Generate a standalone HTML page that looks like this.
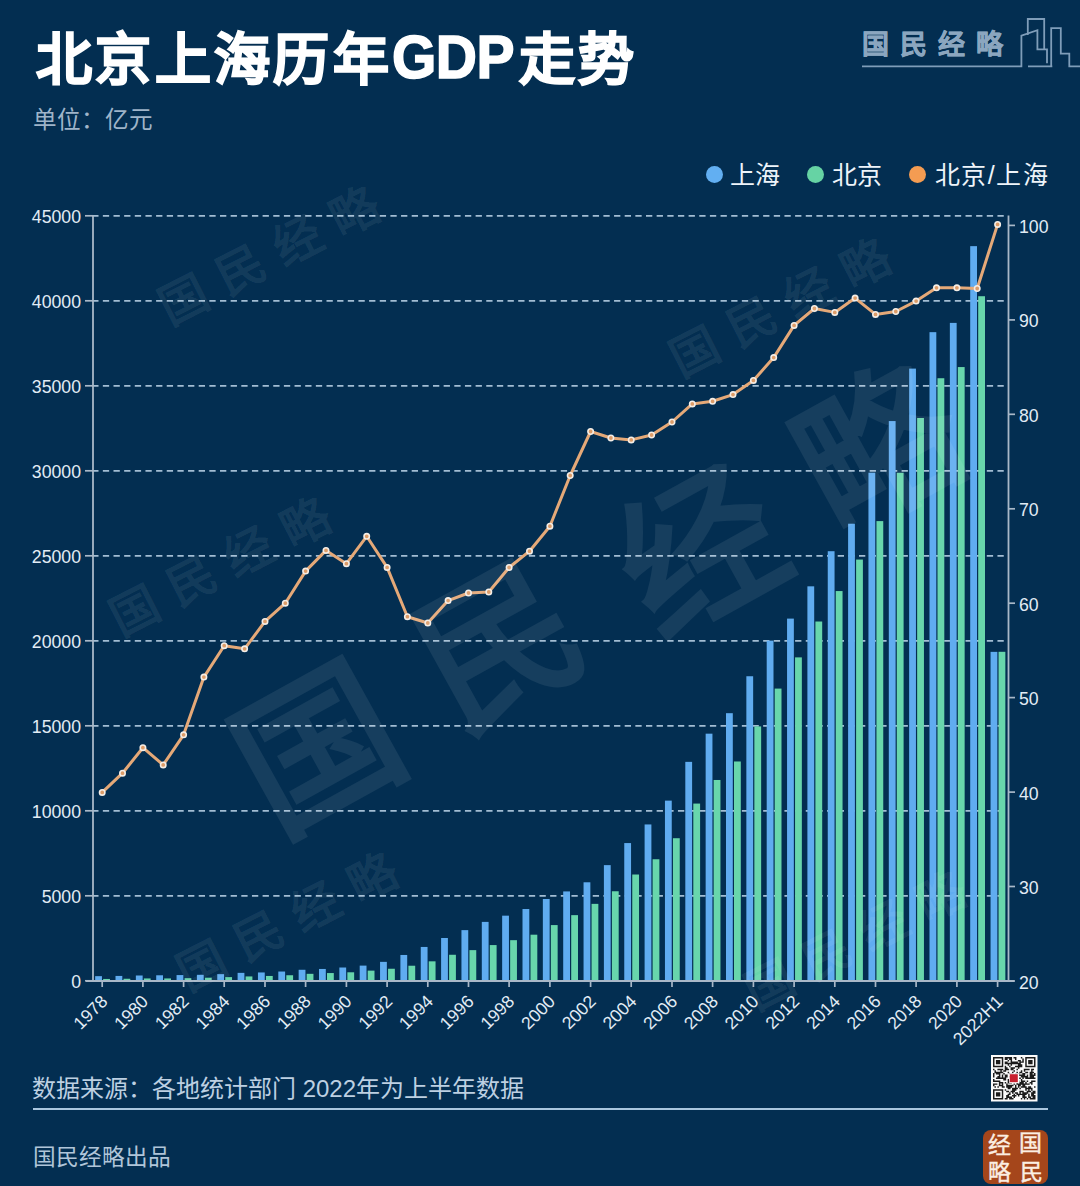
<!DOCTYPE html>
<html lang="zh-CN"><head><meta charset="utf-8">
<title>北京上海历年GDP走势</title>
<style>
html,body{margin:0;padding:0;}
body{width:1080px;height:1186px;background:#032e51;position:relative;overflow:hidden;font-family:"Liberation Sans",sans-serif;}
.abs{position:absolute;white-space:nowrap;line-height:1;}
svg{position:absolute;left:0;top:0;}
.ax{font-family:"Liberation Sans",sans-serif;font-size:17.7px;fill:#e2ecf5;}
.wm{font-family:"Liberation Serif",serif;font-weight:bold;fill:#ffffff;fill-opacity:0.08;}
.tt{top:32px;font-size:56px;font-weight:bold;color:#fff;-webkit-text-stroke:1.6px #fff;letter-spacing:2.4px;}
#unit{left:33px;top:108.5px;font-size:23.6px;color:#9fb4c9;}
.lg{top:163px;font-size:25px;color:#eef4fa;}
.dot{position:absolute;width:17px;height:17px;border-radius:50%;top:166px;}
#gdp{transform:scaleX(0.935);transform-origin:0 0;}
#src{left:32px;top:1077px;font-size:24px;color:#bdd0e2;}
#sep{position:absolute;left:32.5px;top:1108.3px;width:1015px;height:2px;background:#aac6de;}
#pub{left:32.5px;top:1146px;font-size:22.7px;color:#b0c5d9;}
#logo{left:862px;top:31.5px;-webkit-text-stroke:0.5px #8ba6bf;font-family:"Liberation Serif",serif;font-size:27px;font-weight:bold;color:#8ba6bf;letter-spacing:11px;}
#seal{position:absolute;left:983px;top:1130px;width:65px;height:54px;background:#a5461b;border-radius:8px;}
.sc{position:absolute;font-family:"Liberation Serif",serif;font-size:23px;font-weight:normal;-webkit-text-stroke:0.4px #fbeee2;color:#fbeee2;line-height:1;}
</style></head><body>
<div class="abs tt" style="left:35.8px;letter-spacing:3.4px;">北京上海历年</div><div class="abs tt" id="gdp" style="left:392px;top:27px;letter-spacing:-0.6px;font-size:61px;">GDP</div><div class="abs tt" style="left:519px;letter-spacing:3.4px;">走势</div>
<div class="abs" id="unit">单位：亿元</div>
<div class="abs" id="logo">国民经略</div>
<svg width="1080" height="1186" viewBox="0 0 1080 1186" style="z-index:1">
<path d="M862 66.4H1021.4V35.6L1037.4 30.2V49.4H1047V63.2 M1027.8 35V19H1044.2V49.4 M1028 66.4H1052.3 M1051.2 66.4V28.1H1060.8V53.7H1069.3V66.4H1080" fill="none" stroke="#7f9db9" stroke-width="1.8"/>
<line x1="92.2" y1="895.8" x2="1005" y2="895.8" stroke="#a3bdd3" stroke-width="1.7" stroke-dasharray="6.3 4.35"/>
<line x1="92.2" y1="810.8" x2="1005" y2="810.8" stroke="#a3bdd3" stroke-width="1.7" stroke-dasharray="6.3 4.35"/>
<line x1="92.2" y1="725.8" x2="1005" y2="725.8" stroke="#a3bdd3" stroke-width="1.7" stroke-dasharray="6.3 4.35"/>
<line x1="92.2" y1="640.8" x2="1005" y2="640.8" stroke="#a3bdd3" stroke-width="1.7" stroke-dasharray="6.3 4.35"/>
<line x1="92.2" y1="555.8" x2="1005" y2="555.8" stroke="#a3bdd3" stroke-width="1.7" stroke-dasharray="6.3 4.35"/>
<line x1="92.2" y1="470.8" x2="1005" y2="470.8" stroke="#a3bdd3" stroke-width="1.7" stroke-dasharray="6.3 4.35"/>
<line x1="92.2" y1="385.8" x2="1005" y2="385.8" stroke="#a3bdd3" stroke-width="1.7" stroke-dasharray="6.3 4.35"/>
<line x1="92.2" y1="300.8" x2="1005" y2="300.8" stroke="#a3bdd3" stroke-width="1.7" stroke-dasharray="6.3 4.35"/>
<line x1="92.2" y1="215.8" x2="1005" y2="215.8" stroke="#a3bdd3" stroke-width="1.7" stroke-dasharray="6.3 4.35"/>
<line x1="85" y1="980.8" x2="93" y2="980.8" stroke="#a9b8c8" stroke-width="1.7"/>
<text x="81" y="988.3" text-anchor="end" class="ax">0</text>
<line x1="85" y1="895.8" x2="93" y2="895.8" stroke="#a9b8c8" stroke-width="1.7"/>
<text x="81" y="903.3" text-anchor="end" class="ax">5000</text>
<line x1="85" y1="810.8" x2="93" y2="810.8" stroke="#a9b8c8" stroke-width="1.7"/>
<text x="81" y="818.3" text-anchor="end" class="ax">10000</text>
<line x1="85" y1="725.8" x2="93" y2="725.8" stroke="#a9b8c8" stroke-width="1.7"/>
<text x="81" y="733.3" text-anchor="end" class="ax">15000</text>
<line x1="85" y1="640.8" x2="93" y2="640.8" stroke="#a9b8c8" stroke-width="1.7"/>
<text x="81" y="648.3" text-anchor="end" class="ax">20000</text>
<line x1="85" y1="555.8" x2="93" y2="555.8" stroke="#a9b8c8" stroke-width="1.7"/>
<text x="81" y="563.3" text-anchor="end" class="ax">25000</text>
<line x1="85" y1="470.8" x2="93" y2="470.8" stroke="#a9b8c8" stroke-width="1.7"/>
<text x="81" y="478.3" text-anchor="end" class="ax">30000</text>
<line x1="85" y1="385.8" x2="93" y2="385.8" stroke="#a9b8c8" stroke-width="1.7"/>
<text x="81" y="393.3" text-anchor="end" class="ax">35000</text>
<line x1="85" y1="300.8" x2="93" y2="300.8" stroke="#a9b8c8" stroke-width="1.7"/>
<text x="81" y="308.3" text-anchor="end" class="ax">40000</text>
<line x1="85" y1="215.8" x2="93" y2="215.8" stroke="#a9b8c8" stroke-width="1.7"/>
<text x="81" y="223.3" text-anchor="end" class="ax">45000</text>
<line x1="1008.5" y1="981.0" x2="1015" y2="981.0" stroke="#a9b8c8" stroke-width="1.7"/>
<text x="1019" y="988.5" class="ax">20</text>
<line x1="1008.5" y1="886.5" x2="1015" y2="886.5" stroke="#a9b8c8" stroke-width="1.7"/>
<text x="1019" y="894.0" class="ax">30</text>
<line x1="1008.5" y1="792.1" x2="1015" y2="792.1" stroke="#a9b8c8" stroke-width="1.7"/>
<text x="1019" y="799.6" class="ax">40</text>
<line x1="1008.5" y1="697.6" x2="1015" y2="697.6" stroke="#a9b8c8" stroke-width="1.7"/>
<text x="1019" y="705.1" class="ax">50</text>
<line x1="1008.5" y1="603.2" x2="1015" y2="603.2" stroke="#a9b8c8" stroke-width="1.7"/>
<text x="1019" y="610.7" class="ax">60</text>
<line x1="1008.5" y1="508.8" x2="1015" y2="508.8" stroke="#a9b8c8" stroke-width="1.7"/>
<text x="1019" y="516.2" class="ax">70</text>
<line x1="1008.5" y1="414.3" x2="1015" y2="414.3" stroke="#a9b8c8" stroke-width="1.7"/>
<text x="1019" y="421.8" class="ax">80</text>
<line x1="1008.5" y1="319.9" x2="1015" y2="319.9" stroke="#a9b8c8" stroke-width="1.7"/>
<text x="1019" y="327.4" class="ax">90</text>
<line x1="1008.5" y1="225.4" x2="1015" y2="225.4" stroke="#a9b8c8" stroke-width="1.7"/>
<text x="1019" y="232.9" class="ax">100</text>
<rect x="95.15" y="976.16" width="6.8" height="4.64" fill="#60acf0"/>
<rect x="103.15" y="978.95" width="6.8" height="1.85" fill="#68d6ac"/>
<rect x="115.50" y="975.93" width="6.8" height="4.87" fill="#60acf0"/>
<rect x="123.50" y="978.76" width="6.8" height="2.04" fill="#68d6ac"/>
<rect x="135.85" y="975.50" width="6.8" height="5.30" fill="#60acf0"/>
<rect x="143.85" y="978.44" width="6.8" height="2.36" fill="#68d6ac"/>
<rect x="156.20" y="975.28" width="6.8" height="5.52" fill="#60acf0"/>
<rect x="164.20" y="978.43" width="6.8" height="2.37" fill="#68d6ac"/>
<rect x="176.55" y="975.07" width="6.8" height="5.73" fill="#60acf0"/>
<rect x="184.55" y="978.17" width="6.8" height="2.63" fill="#68d6ac"/>
<rect x="196.90" y="974.82" width="6.8" height="5.98" fill="#60acf0"/>
<rect x="204.90" y="977.69" width="6.8" height="3.11" fill="#68d6ac"/>
<rect x="217.25" y="974.15" width="6.8" height="6.65" fill="#60acf0"/>
<rect x="225.25" y="977.12" width="6.8" height="3.68" fill="#68d6ac"/>
<rect x="237.60" y="972.86" width="6.8" height="7.94" fill="#60acf0"/>
<rect x="245.60" y="976.43" width="6.8" height="4.37" fill="#68d6ac"/>
<rect x="257.95" y="972.46" width="6.8" height="8.34" fill="#60acf0"/>
<rect x="265.95" y="975.96" width="6.8" height="4.84" fill="#68d6ac"/>
<rect x="278.30" y="971.53" width="6.8" height="9.27" fill="#60acf0"/>
<rect x="286.30" y="975.24" width="6.8" height="5.56" fill="#68d6ac"/>
<rect x="298.65" y="969.78" width="6.8" height="11.02" fill="#60acf0"/>
<rect x="306.65" y="973.83" width="6.8" height="6.97" fill="#68d6ac"/>
<rect x="319.00" y="968.96" width="6.8" height="11.84" fill="#60acf0"/>
<rect x="327.00" y="973.05" width="6.8" height="7.75" fill="#68d6ac"/>
<rect x="339.35" y="967.51" width="6.8" height="13.29" fill="#60acf0"/>
<rect x="347.35" y="972.29" width="6.8" height="8.51" fill="#68d6ac"/>
<rect x="359.70" y="965.61" width="6.8" height="15.19" fill="#60acf0"/>
<rect x="367.70" y="970.62" width="6.8" height="10.18" fill="#68d6ac"/>
<rect x="380.05" y="961.86" width="6.8" height="18.94" fill="#60acf0"/>
<rect x="388.05" y="968.75" width="6.8" height="12.05" fill="#68d6ac"/>
<rect x="400.40" y="954.97" width="6.8" height="25.83" fill="#60acf0"/>
<rect x="408.40" y="965.73" width="6.8" height="15.07" fill="#68d6ac"/>
<rect x="420.75" y="946.95" width="6.8" height="33.85" fill="#60acf0"/>
<rect x="428.75" y="961.33" width="6.8" height="19.47" fill="#68d6ac"/>
<rect x="441.10" y="937.99" width="6.8" height="42.81" fill="#60acf0"/>
<rect x="449.10" y="954.77" width="6.8" height="26.03" fill="#68d6ac"/>
<rect x="461.45" y="930.13" width="6.8" height="50.67" fill="#60acf0"/>
<rect x="469.45" y="950.13" width="6.8" height="30.67" fill="#68d6ac"/>
<rect x="481.80" y="921.89" width="6.8" height="58.91" fill="#60acf0"/>
<rect x="489.80" y="945.07" width="6.8" height="35.73" fill="#68d6ac"/>
<rect x="502.15" y="915.67" width="6.8" height="65.13" fill="#60acf0"/>
<rect x="510.15" y="940.17" width="6.8" height="40.63" fill="#68d6ac"/>
<rect x="522.50" y="909.02" width="6.8" height="71.78" fill="#60acf0"/>
<rect x="530.50" y="934.69" width="6.8" height="46.11" fill="#68d6ac"/>
<rect x="542.85" y="898.99" width="6.8" height="81.81" fill="#60acf0"/>
<rect x="550.85" y="925.08" width="6.8" height="55.72" fill="#68d6ac"/>
<rect x="563.20" y="891.42" width="6.8" height="89.38" fill="#60acf0"/>
<rect x="571.20" y="915.14" width="6.8" height="65.66" fill="#68d6ac"/>
<rect x="583.55" y="882.28" width="6.8" height="98.52" fill="#60acf0"/>
<rect x="591.55" y="903.86" width="6.8" height="76.94" fill="#68d6ac"/>
<rect x="603.90" y="865.13" width="6.8" height="115.67" fill="#60acf0"/>
<rect x="611.90" y="891.26" width="6.8" height="89.54" fill="#68d6ac"/>
<rect x="624.25" y="843.07" width="6.8" height="137.73" fill="#60acf0"/>
<rect x="632.25" y="874.51" width="6.8" height="106.29" fill="#68d6ac"/>
<rect x="644.60" y="824.45" width="6.8" height="156.35" fill="#60acf0"/>
<rect x="652.60" y="859.25" width="6.8" height="121.55" fill="#68d6ac"/>
<rect x="664.95" y="800.62" width="6.8" height="180.18" fill="#60acf0"/>
<rect x="672.95" y="838.22" width="6.8" height="142.58" fill="#68d6ac"/>
<rect x="685.30" y="761.86" width="6.8" height="218.94" fill="#60acf0"/>
<rect x="693.30" y="803.57" width="6.8" height="177.23" fill="#68d6ac"/>
<rect x="705.65" y="733.67" width="6.8" height="247.13" fill="#60acf0"/>
<rect x="713.65" y="779.98" width="6.8" height="200.82" fill="#68d6ac"/>
<rect x="726.00" y="713.18" width="6.8" height="267.62" fill="#60acf0"/>
<rect x="734.00" y="761.48" width="6.8" height="219.32" fill="#68d6ac"/>
<rect x="746.35" y="676.24" width="6.8" height="304.56" fill="#60acf0"/>
<rect x="754.35" y="726.41" width="6.8" height="254.39" fill="#68d6ac"/>
<rect x="766.70" y="640.64" width="6.8" height="340.16" fill="#60acf0"/>
<rect x="774.70" y="688.59" width="6.8" height="292.21" fill="#68d6ac"/>
<rect x="787.05" y="618.60" width="6.8" height="362.20" fill="#60acf0"/>
<rect x="795.05" y="657.38" width="6.8" height="323.42" fill="#68d6ac"/>
<rect x="807.40" y="586.33" width="6.8" height="394.47" fill="#60acf0"/>
<rect x="815.40" y="621.51" width="6.8" height="359.29" fill="#68d6ac"/>
<rect x="827.75" y="551.21" width="6.8" height="429.59" fill="#60acf0"/>
<rect x="835.75" y="591.06" width="6.8" height="389.74" fill="#68d6ac"/>
<rect x="848.10" y="523.72" width="6.8" height="457.08" fill="#60acf0"/>
<rect x="856.10" y="559.56" width="6.8" height="421.24" fill="#68d6ac"/>
<rect x="868.45" y="472.72" width="6.8" height="508.08" fill="#60acf0"/>
<rect x="876.45" y="521.10" width="6.8" height="459.70" fill="#68d6ac"/>
<rect x="888.80" y="421.07" width="6.8" height="559.73" fill="#60acf0"/>
<rect x="896.80" y="472.79" width="6.8" height="508.01" fill="#68d6ac"/>
<rect x="909.15" y="368.60" width="6.8" height="612.20" fill="#60acf0"/>
<rect x="917.15" y="418.00" width="6.8" height="562.80" fill="#68d6ac"/>
<rect x="929.50" y="332.16" width="6.8" height="648.64" fill="#60acf0"/>
<rect x="937.50" y="378.23" width="6.8" height="602.57" fill="#68d6ac"/>
<rect x="949.85" y="322.89" width="6.8" height="657.91" fill="#60acf0"/>
<rect x="957.85" y="367.06" width="6.8" height="613.74" fill="#68d6ac"/>
<rect x="970.20" y="246.15" width="6.8" height="734.65" fill="#60acf0"/>
<rect x="978.20" y="296.22" width="6.8" height="684.58" fill="#68d6ac"/>
<rect x="990.55" y="651.86" width="6.8" height="328.94" fill="#60acf0"/>
<rect x="998.55" y="651.81" width="6.8" height="328.99" fill="#68d6ac"/>
<line x1="93" y1="215.5" x2="93" y2="981.8" stroke="#a9b8c8" stroke-width="1.8"/>
<line x1="1008.5" y1="215.5" x2="1008.5" y2="981.8" stroke="#a9b8c8" stroke-width="1.8"/>
<line x1="86" y1="981" x2="1014" y2="981" stroke="#a9b8c8" stroke-width="2"/>
<line x1="102.2" y1="981" x2="102.2" y2="987" stroke="#a9b8c8" stroke-width="1.7"/>
<text x="104.4" y="998.3" text-anchor="end" dominant-baseline="central" transform="rotate(-45 104.4 998.3)" class="ax">1978</text>
<line x1="142.9" y1="981" x2="142.9" y2="987" stroke="#a9b8c8" stroke-width="1.7"/>
<text x="145.1" y="998.3" text-anchor="end" dominant-baseline="central" transform="rotate(-45 145.1 998.3)" class="ax">1980</text>
<line x1="183.6" y1="981" x2="183.6" y2="987" stroke="#a9b8c8" stroke-width="1.7"/>
<text x="185.8" y="998.3" text-anchor="end" dominant-baseline="central" transform="rotate(-45 185.8 998.3)" class="ax">1982</text>
<line x1="224.2" y1="981" x2="224.2" y2="987" stroke="#a9b8c8" stroke-width="1.7"/>
<text x="226.4" y="998.3" text-anchor="end" dominant-baseline="central" transform="rotate(-45 226.4 998.3)" class="ax">1984</text>
<line x1="265.0" y1="981" x2="265.0" y2="987" stroke="#a9b8c8" stroke-width="1.7"/>
<text x="267.2" y="998.3" text-anchor="end" dominant-baseline="central" transform="rotate(-45 267.2 998.3)" class="ax">1986</text>
<line x1="305.6" y1="981" x2="305.6" y2="987" stroke="#a9b8c8" stroke-width="1.7"/>
<text x="307.8" y="998.3" text-anchor="end" dominant-baseline="central" transform="rotate(-45 307.8 998.3)" class="ax">1988</text>
<line x1="346.4" y1="981" x2="346.4" y2="987" stroke="#a9b8c8" stroke-width="1.7"/>
<text x="348.6" y="998.3" text-anchor="end" dominant-baseline="central" transform="rotate(-45 348.6 998.3)" class="ax">1990</text>
<line x1="387.1" y1="981" x2="387.1" y2="987" stroke="#a9b8c8" stroke-width="1.7"/>
<text x="389.3" y="998.3" text-anchor="end" dominant-baseline="central" transform="rotate(-45 389.3 998.3)" class="ax">1992</text>
<line x1="427.8" y1="981" x2="427.8" y2="987" stroke="#a9b8c8" stroke-width="1.7"/>
<text x="429.9" y="998.3" text-anchor="end" dominant-baseline="central" transform="rotate(-45 429.9 998.3)" class="ax">1994</text>
<line x1="468.5" y1="981" x2="468.5" y2="987" stroke="#a9b8c8" stroke-width="1.7"/>
<text x="470.7" y="998.3" text-anchor="end" dominant-baseline="central" transform="rotate(-45 470.7 998.3)" class="ax">1996</text>
<line x1="509.1" y1="981" x2="509.1" y2="987" stroke="#a9b8c8" stroke-width="1.7"/>
<text x="511.3" y="998.3" text-anchor="end" dominant-baseline="central" transform="rotate(-45 511.3 998.3)" class="ax">1998</text>
<line x1="549.9" y1="981" x2="549.9" y2="987" stroke="#a9b8c8" stroke-width="1.7"/>
<text x="552.1" y="998.3" text-anchor="end" dominant-baseline="central" transform="rotate(-45 552.1 998.3)" class="ax">2000</text>
<line x1="590.6" y1="981" x2="590.6" y2="987" stroke="#a9b8c8" stroke-width="1.7"/>
<text x="592.8" y="998.3" text-anchor="end" dominant-baseline="central" transform="rotate(-45 592.8 998.3)" class="ax">2002</text>
<line x1="631.2" y1="981" x2="631.2" y2="987" stroke="#a9b8c8" stroke-width="1.7"/>
<text x="633.5" y="998.3" text-anchor="end" dominant-baseline="central" transform="rotate(-45 633.5 998.3)" class="ax">2004</text>
<line x1="672.0" y1="981" x2="672.0" y2="987" stroke="#a9b8c8" stroke-width="1.7"/>
<text x="674.2" y="998.3" text-anchor="end" dominant-baseline="central" transform="rotate(-45 674.2 998.3)" class="ax">2006</text>
<line x1="712.6" y1="981" x2="712.6" y2="987" stroke="#a9b8c8" stroke-width="1.7"/>
<text x="714.9" y="998.3" text-anchor="end" dominant-baseline="central" transform="rotate(-45 714.9 998.3)" class="ax">2008</text>
<line x1="753.4" y1="981" x2="753.4" y2="987" stroke="#a9b8c8" stroke-width="1.7"/>
<text x="755.6" y="998.3" text-anchor="end" dominant-baseline="central" transform="rotate(-45 755.6 998.3)" class="ax">2010</text>
<line x1="794.1" y1="981" x2="794.1" y2="987" stroke="#a9b8c8" stroke-width="1.7"/>
<text x="796.3" y="998.3" text-anchor="end" dominant-baseline="central" transform="rotate(-45 796.3 998.3)" class="ax">2012</text>
<line x1="834.8" y1="981" x2="834.8" y2="987" stroke="#a9b8c8" stroke-width="1.7"/>
<text x="837.0" y="998.3" text-anchor="end" dominant-baseline="central" transform="rotate(-45 837.0 998.3)" class="ax">2014</text>
<line x1="875.5" y1="981" x2="875.5" y2="987" stroke="#a9b8c8" stroke-width="1.7"/>
<text x="877.7" y="998.3" text-anchor="end" dominant-baseline="central" transform="rotate(-45 877.7 998.3)" class="ax">2016</text>
<line x1="916.1" y1="981" x2="916.1" y2="987" stroke="#a9b8c8" stroke-width="1.7"/>
<text x="918.4" y="998.3" text-anchor="end" dominant-baseline="central" transform="rotate(-45 918.4 998.3)" class="ax">2018</text>
<line x1="956.9" y1="981" x2="956.9" y2="987" stroke="#a9b8c8" stroke-width="1.7"/>
<text x="959.1" y="998.3" text-anchor="end" dominant-baseline="central" transform="rotate(-45 959.1 998.3)" class="ax">2020</text>
<line x1="997.6" y1="981" x2="997.6" y2="987" stroke="#a9b8c8" stroke-width="1.7"/>
<text x="999.8" y="998.3" text-anchor="end" dominant-baseline="central" transform="rotate(-45 999.8 998.3)" class="ax">2022H1</text>
<polyline points="102.2,792.4 122.5,773.2 142.9,747.7 163.2,764.9 183.6,734.8 203.9,677.1 224.2,645.7 244.6,648.8 265.0,621.4 285.3,603.2 305.6,571.1 326.0,550.4 346.4,563.7 366.7,536.3 387.1,567.4 407.4,616.7 427.8,623.0 448.1,600.6 468.5,593.0 488.8,592.0 509.1,567.5 529.5,551.2 549.9,526.2 570.2,475.5 590.6,431.5 610.9,438.0 631.2,439.9 651.6,435.0 672.0,422.0 692.3,403.9 712.6,401.3 733.0,394.6 753.4,380.4 773.7,357.6 794.1,325.4 814.4,308.5 834.8,312.4 855.1,298.1 875.5,314.4 895.8,311.5 916.1,301.1 936.5,287.8 956.9,287.8 977.2,288.5 997.6,224.4" fill="none" stroke="#e5a978" stroke-width="3" stroke-linejoin="round"/>
<circle cx="102.2" cy="792.4" r="2.7" fill="#dd9c68" stroke="#f4ede6" stroke-width="1.6"/>
<circle cx="122.5" cy="773.2" r="2.7" fill="#dd9c68" stroke="#f4ede6" stroke-width="1.6"/>
<circle cx="142.9" cy="747.7" r="2.7" fill="#dd9c68" stroke="#f4ede6" stroke-width="1.6"/>
<circle cx="163.2" cy="764.9" r="2.7" fill="#dd9c68" stroke="#f4ede6" stroke-width="1.6"/>
<circle cx="183.6" cy="734.8" r="2.7" fill="#dd9c68" stroke="#f4ede6" stroke-width="1.6"/>
<circle cx="203.9" cy="677.1" r="2.7" fill="#dd9c68" stroke="#f4ede6" stroke-width="1.6"/>
<circle cx="224.2" cy="645.7" r="2.7" fill="#dd9c68" stroke="#f4ede6" stroke-width="1.6"/>
<circle cx="244.6" cy="648.8" r="2.7" fill="#dd9c68" stroke="#f4ede6" stroke-width="1.6"/>
<circle cx="265.0" cy="621.4" r="2.7" fill="#dd9c68" stroke="#f4ede6" stroke-width="1.6"/>
<circle cx="285.3" cy="603.2" r="2.7" fill="#dd9c68" stroke="#f4ede6" stroke-width="1.6"/>
<circle cx="305.6" cy="571.1" r="2.7" fill="#dd9c68" stroke="#f4ede6" stroke-width="1.6"/>
<circle cx="326.0" cy="550.4" r="2.7" fill="#dd9c68" stroke="#f4ede6" stroke-width="1.6"/>
<circle cx="346.4" cy="563.7" r="2.7" fill="#dd9c68" stroke="#f4ede6" stroke-width="1.6"/>
<circle cx="366.7" cy="536.3" r="2.7" fill="#dd9c68" stroke="#f4ede6" stroke-width="1.6"/>
<circle cx="387.1" cy="567.4" r="2.7" fill="#dd9c68" stroke="#f4ede6" stroke-width="1.6"/>
<circle cx="407.4" cy="616.7" r="2.7" fill="#dd9c68" stroke="#f4ede6" stroke-width="1.6"/>
<circle cx="427.8" cy="623.0" r="2.7" fill="#dd9c68" stroke="#f4ede6" stroke-width="1.6"/>
<circle cx="448.1" cy="600.6" r="2.7" fill="#dd9c68" stroke="#f4ede6" stroke-width="1.6"/>
<circle cx="468.5" cy="593.0" r="2.7" fill="#dd9c68" stroke="#f4ede6" stroke-width="1.6"/>
<circle cx="488.8" cy="592.0" r="2.7" fill="#dd9c68" stroke="#f4ede6" stroke-width="1.6"/>
<circle cx="509.1" cy="567.5" r="2.7" fill="#dd9c68" stroke="#f4ede6" stroke-width="1.6"/>
<circle cx="529.5" cy="551.2" r="2.7" fill="#dd9c68" stroke="#f4ede6" stroke-width="1.6"/>
<circle cx="549.9" cy="526.2" r="2.7" fill="#dd9c68" stroke="#f4ede6" stroke-width="1.6"/>
<circle cx="570.2" cy="475.5" r="2.7" fill="#dd9c68" stroke="#f4ede6" stroke-width="1.6"/>
<circle cx="590.6" cy="431.5" r="2.7" fill="#dd9c68" stroke="#f4ede6" stroke-width="1.6"/>
<circle cx="610.9" cy="438.0" r="2.7" fill="#dd9c68" stroke="#f4ede6" stroke-width="1.6"/>
<circle cx="631.2" cy="439.9" r="2.7" fill="#dd9c68" stroke="#f4ede6" stroke-width="1.6"/>
<circle cx="651.6" cy="435.0" r="2.7" fill="#dd9c68" stroke="#f4ede6" stroke-width="1.6"/>
<circle cx="672.0" cy="422.0" r="2.7" fill="#dd9c68" stroke="#f4ede6" stroke-width="1.6"/>
<circle cx="692.3" cy="403.9" r="2.7" fill="#dd9c68" stroke="#f4ede6" stroke-width="1.6"/>
<circle cx="712.6" cy="401.3" r="2.7" fill="#dd9c68" stroke="#f4ede6" stroke-width="1.6"/>
<circle cx="733.0" cy="394.6" r="2.7" fill="#dd9c68" stroke="#f4ede6" stroke-width="1.6"/>
<circle cx="753.4" cy="380.4" r="2.7" fill="#dd9c68" stroke="#f4ede6" stroke-width="1.6"/>
<circle cx="773.7" cy="357.6" r="2.7" fill="#dd9c68" stroke="#f4ede6" stroke-width="1.6"/>
<circle cx="794.1" cy="325.4" r="2.7" fill="#dd9c68" stroke="#f4ede6" stroke-width="1.6"/>
<circle cx="814.4" cy="308.5" r="2.7" fill="#dd9c68" stroke="#f4ede6" stroke-width="1.6"/>
<circle cx="834.8" cy="312.4" r="2.7" fill="#dd9c68" stroke="#f4ede6" stroke-width="1.6"/>
<circle cx="855.1" cy="298.1" r="2.7" fill="#dd9c68" stroke="#f4ede6" stroke-width="1.6"/>
<circle cx="875.5" cy="314.4" r="2.7" fill="#dd9c68" stroke="#f4ede6" stroke-width="1.6"/>
<circle cx="895.8" cy="311.5" r="2.7" fill="#dd9c68" stroke="#f4ede6" stroke-width="1.6"/>
<circle cx="916.1" cy="301.1" r="2.7" fill="#dd9c68" stroke="#f4ede6" stroke-width="1.6"/>
<circle cx="936.5" cy="287.8" r="2.7" fill="#dd9c68" stroke="#f4ede6" stroke-width="1.6"/>
<circle cx="956.9" cy="287.8" r="2.7" fill="#dd9c68" stroke="#f4ede6" stroke-width="1.6"/>
<circle cx="977.2" cy="288.5" r="2.7" fill="#dd9c68" stroke="#f4ede6" stroke-width="1.6"/>
<circle cx="997.6" cy="224.4" r="2.7" fill="#dd9c68" stroke="#f4ede6" stroke-width="1.6"/>
<rect x="991" y="1055" width="46.5" height="46.5" fill="#fbfbfb"/>
<path fill="#1a1a1a" d="M993.00 1057.00h1.47v1.47h-1.47zM994.47 1057.00h1.47v1.47h-1.47zM995.93 1057.00h1.47v1.47h-1.47zM997.40 1057.00h1.47v1.47h-1.47zM998.86 1057.00h1.47v1.47h-1.47zM1000.33 1057.00h1.47v1.47h-1.47zM1001.79 1057.00h1.47v1.47h-1.47zM1004.72 1057.00h1.47v1.47h-1.47zM1006.19 1057.00h1.47v1.47h-1.47zM1007.66 1057.00h1.47v1.47h-1.47zM1009.12 1057.00h1.47v1.47h-1.47zM1010.59 1057.00h1.47v1.47h-1.47zM1013.52 1057.00h1.47v1.47h-1.47zM1014.98 1057.00h1.47v1.47h-1.47zM1020.84 1057.00h1.47v1.47h-1.47zM1025.24 1057.00h1.47v1.47h-1.47zM1026.71 1057.00h1.47v1.47h-1.47zM1028.17 1057.00h1.47v1.47h-1.47zM1029.64 1057.00h1.47v1.47h-1.47zM1031.10 1057.00h1.47v1.47h-1.47zM1032.57 1057.00h1.47v1.47h-1.47zM1034.03 1057.00h1.47v1.47h-1.47zM993.00 1058.47h1.47v1.47h-1.47zM1001.79 1058.47h1.47v1.47h-1.47zM1004.72 1058.47h1.47v1.47h-1.47zM1006.19 1058.47h1.47v1.47h-1.47zM1009.12 1058.47h1.47v1.47h-1.47zM1010.59 1058.47h1.47v1.47h-1.47zM1014.98 1058.47h1.47v1.47h-1.47zM1022.31 1058.47h1.47v1.47h-1.47zM1025.24 1058.47h1.47v1.47h-1.47zM1034.03 1058.47h1.47v1.47h-1.47zM993.00 1059.93h1.47v1.47h-1.47zM995.93 1059.93h1.47v1.47h-1.47zM997.40 1059.93h1.47v1.47h-1.47zM998.86 1059.93h1.47v1.47h-1.47zM1001.79 1059.93h1.47v1.47h-1.47zM1007.66 1059.93h1.47v1.47h-1.47zM1010.59 1059.93h1.47v1.47h-1.47zM1017.91 1059.93h1.47v1.47h-1.47zM1019.38 1059.93h1.47v1.47h-1.47zM1022.31 1059.93h1.47v1.47h-1.47zM1025.24 1059.93h1.47v1.47h-1.47zM1028.17 1059.93h1.47v1.47h-1.47zM1029.64 1059.93h1.47v1.47h-1.47zM1031.10 1059.93h1.47v1.47h-1.47zM1034.03 1059.93h1.47v1.47h-1.47zM993.00 1061.40h1.47v1.47h-1.47zM995.93 1061.40h1.47v1.47h-1.47zM997.40 1061.40h1.47v1.47h-1.47zM998.86 1061.40h1.47v1.47h-1.47zM1001.79 1061.40h1.47v1.47h-1.47zM1004.72 1061.40h1.47v1.47h-1.47zM1006.19 1061.40h1.47v1.47h-1.47zM1010.59 1061.40h1.47v1.47h-1.47zM1012.05 1061.40h1.47v1.47h-1.47zM1013.52 1061.40h1.47v1.47h-1.47zM1014.98 1061.40h1.47v1.47h-1.47zM1016.45 1061.40h1.47v1.47h-1.47zM1019.38 1061.40h1.47v1.47h-1.47zM1020.84 1061.40h1.47v1.47h-1.47zM1022.31 1061.40h1.47v1.47h-1.47zM1025.24 1061.40h1.47v1.47h-1.47zM1028.17 1061.40h1.47v1.47h-1.47zM1029.64 1061.40h1.47v1.47h-1.47zM1031.10 1061.40h1.47v1.47h-1.47zM1034.03 1061.40h1.47v1.47h-1.47zM993.00 1062.86h1.47v1.47h-1.47zM995.93 1062.86h1.47v1.47h-1.47zM997.40 1062.86h1.47v1.47h-1.47zM998.86 1062.86h1.47v1.47h-1.47zM1001.79 1062.86h1.47v1.47h-1.47zM1004.72 1062.86h1.47v1.47h-1.47zM1006.19 1062.86h1.47v1.47h-1.47zM1007.66 1062.86h1.47v1.47h-1.47zM1009.12 1062.86h1.47v1.47h-1.47zM1010.59 1062.86h1.47v1.47h-1.47zM1012.05 1062.86h1.47v1.47h-1.47zM1013.52 1062.86h1.47v1.47h-1.47zM1014.98 1062.86h1.47v1.47h-1.47zM1016.45 1062.86h1.47v1.47h-1.47zM1017.91 1062.86h1.47v1.47h-1.47zM1019.38 1062.86h1.47v1.47h-1.47zM1025.24 1062.86h1.47v1.47h-1.47zM1028.17 1062.86h1.47v1.47h-1.47zM1029.64 1062.86h1.47v1.47h-1.47zM1031.10 1062.86h1.47v1.47h-1.47zM1034.03 1062.86h1.47v1.47h-1.47zM993.00 1064.33h1.47v1.47h-1.47zM1001.79 1064.33h1.47v1.47h-1.47zM1007.66 1064.33h1.47v1.47h-1.47zM1010.59 1064.33h1.47v1.47h-1.47zM1017.91 1064.33h1.47v1.47h-1.47zM1019.38 1064.33h1.47v1.47h-1.47zM1020.84 1064.33h1.47v1.47h-1.47zM1025.24 1064.33h1.47v1.47h-1.47zM1034.03 1064.33h1.47v1.47h-1.47zM993.00 1065.79h1.47v1.47h-1.47zM994.47 1065.79h1.47v1.47h-1.47zM995.93 1065.79h1.47v1.47h-1.47zM997.40 1065.79h1.47v1.47h-1.47zM998.86 1065.79h1.47v1.47h-1.47zM1000.33 1065.79h1.47v1.47h-1.47zM1001.79 1065.79h1.47v1.47h-1.47zM1004.72 1065.79h1.47v1.47h-1.47zM1009.12 1065.79h1.47v1.47h-1.47zM1014.98 1065.79h1.47v1.47h-1.47zM1016.45 1065.79h1.47v1.47h-1.47zM1017.91 1065.79h1.47v1.47h-1.47zM1019.38 1065.79h1.47v1.47h-1.47zM1020.84 1065.79h1.47v1.47h-1.47zM1025.24 1065.79h1.47v1.47h-1.47zM1026.71 1065.79h1.47v1.47h-1.47zM1028.17 1065.79h1.47v1.47h-1.47zM1029.64 1065.79h1.47v1.47h-1.47zM1031.10 1065.79h1.47v1.47h-1.47zM1032.57 1065.79h1.47v1.47h-1.47zM1034.03 1065.79h1.47v1.47h-1.47zM1004.72 1067.26h1.47v1.47h-1.47zM1006.19 1067.26h1.47v1.47h-1.47zM1010.59 1067.26h1.47v1.47h-1.47zM1012.05 1067.26h1.47v1.47h-1.47zM1013.52 1067.26h1.47v1.47h-1.47zM1017.91 1067.26h1.47v1.47h-1.47zM993.00 1068.72h1.47v1.47h-1.47zM997.40 1068.72h1.47v1.47h-1.47zM998.86 1068.72h1.47v1.47h-1.47zM1000.33 1068.72h1.47v1.47h-1.47zM1001.79 1068.72h1.47v1.47h-1.47zM1004.72 1068.72h1.47v1.47h-1.47zM1006.19 1068.72h1.47v1.47h-1.47zM1007.66 1068.72h1.47v1.47h-1.47zM1010.59 1068.72h1.47v1.47h-1.47zM1012.05 1068.72h1.47v1.47h-1.47zM1016.45 1068.72h1.47v1.47h-1.47zM1023.78 1068.72h1.47v1.47h-1.47zM1025.24 1068.72h1.47v1.47h-1.47zM1026.71 1068.72h1.47v1.47h-1.47zM1028.17 1068.72h1.47v1.47h-1.47zM1031.10 1068.72h1.47v1.47h-1.47zM1032.57 1068.72h1.47v1.47h-1.47zM994.47 1070.19h1.47v1.47h-1.47zM1000.33 1070.19h1.47v1.47h-1.47zM1003.26 1070.19h1.47v1.47h-1.47zM1004.72 1070.19h1.47v1.47h-1.47zM1013.52 1070.19h1.47v1.47h-1.47zM1020.84 1070.19h1.47v1.47h-1.47zM1023.78 1070.19h1.47v1.47h-1.47zM1031.10 1070.19h1.47v1.47h-1.47zM994.47 1071.66h1.47v1.47h-1.47zM995.93 1071.66h1.47v1.47h-1.47zM997.40 1071.66h1.47v1.47h-1.47zM998.86 1071.66h1.47v1.47h-1.47zM1000.33 1071.66h1.47v1.47h-1.47zM1001.79 1071.66h1.47v1.47h-1.47zM1007.66 1071.66h1.47v1.47h-1.47zM1012.05 1071.66h1.47v1.47h-1.47zM1016.45 1071.66h1.47v1.47h-1.47zM1019.38 1071.66h1.47v1.47h-1.47zM1020.84 1071.66h1.47v1.47h-1.47zM1025.24 1071.66h1.47v1.47h-1.47zM1026.71 1071.66h1.47v1.47h-1.47zM1029.64 1071.66h1.47v1.47h-1.47zM1031.10 1071.66h1.47v1.47h-1.47zM1032.57 1071.66h1.47v1.47h-1.47zM993.00 1073.12h1.47v1.47h-1.47zM995.93 1073.12h1.47v1.47h-1.47zM997.40 1073.12h1.47v1.47h-1.47zM998.86 1073.12h1.47v1.47h-1.47zM1003.26 1073.12h1.47v1.47h-1.47zM1009.12 1073.12h1.47v1.47h-1.47zM1010.59 1073.12h1.47v1.47h-1.47zM1012.05 1073.12h1.47v1.47h-1.47zM1014.98 1073.12h1.47v1.47h-1.47zM1016.45 1073.12h1.47v1.47h-1.47zM1017.91 1073.12h1.47v1.47h-1.47zM1022.31 1073.12h1.47v1.47h-1.47zM1023.78 1073.12h1.47v1.47h-1.47zM1029.64 1073.12h1.47v1.47h-1.47zM1031.10 1073.12h1.47v1.47h-1.47zM1034.03 1073.12h1.47v1.47h-1.47zM993.00 1074.59h1.47v1.47h-1.47zM998.86 1074.59h1.47v1.47h-1.47zM1001.79 1074.59h1.47v1.47h-1.47zM1004.72 1074.59h1.47v1.47h-1.47zM1006.19 1074.59h1.47v1.47h-1.47zM1010.59 1074.59h1.47v1.47h-1.47zM1012.05 1074.59h1.47v1.47h-1.47zM1014.98 1074.59h1.47v1.47h-1.47zM1016.45 1074.59h1.47v1.47h-1.47zM1017.91 1074.59h1.47v1.47h-1.47zM1019.38 1074.59h1.47v1.47h-1.47zM1020.84 1074.59h1.47v1.47h-1.47zM1022.31 1074.59h1.47v1.47h-1.47zM1023.78 1074.59h1.47v1.47h-1.47zM1026.71 1074.59h1.47v1.47h-1.47zM1029.64 1074.59h1.47v1.47h-1.47zM1031.10 1074.59h1.47v1.47h-1.47zM1032.57 1074.59h1.47v1.47h-1.47zM1034.03 1074.59h1.47v1.47h-1.47zM993.00 1076.05h1.47v1.47h-1.47zM997.40 1076.05h1.47v1.47h-1.47zM998.86 1076.05h1.47v1.47h-1.47zM1001.79 1076.05h1.47v1.47h-1.47zM1004.72 1076.05h1.47v1.47h-1.47zM1006.19 1076.05h1.47v1.47h-1.47zM1009.12 1076.05h1.47v1.47h-1.47zM1014.98 1076.05h1.47v1.47h-1.47zM1020.84 1076.05h1.47v1.47h-1.47zM1022.31 1076.05h1.47v1.47h-1.47zM1023.78 1076.05h1.47v1.47h-1.47zM1025.24 1076.05h1.47v1.47h-1.47zM1026.71 1076.05h1.47v1.47h-1.47zM1029.64 1076.05h1.47v1.47h-1.47zM1031.10 1076.05h1.47v1.47h-1.47zM1032.57 1076.05h1.47v1.47h-1.47zM995.93 1077.52h1.47v1.47h-1.47zM997.40 1077.52h1.47v1.47h-1.47zM998.86 1077.52h1.47v1.47h-1.47zM1000.33 1077.52h1.47v1.47h-1.47zM1001.79 1077.52h1.47v1.47h-1.47zM1003.26 1077.52h1.47v1.47h-1.47zM1004.72 1077.52h1.47v1.47h-1.47zM1010.59 1077.52h1.47v1.47h-1.47zM1013.52 1077.52h1.47v1.47h-1.47zM1014.98 1077.52h1.47v1.47h-1.47zM1016.45 1077.52h1.47v1.47h-1.47zM1017.91 1077.52h1.47v1.47h-1.47zM1019.38 1077.52h1.47v1.47h-1.47zM1022.31 1077.52h1.47v1.47h-1.47zM1025.24 1077.52h1.47v1.47h-1.47zM1026.71 1077.52h1.47v1.47h-1.47zM1028.17 1077.52h1.47v1.47h-1.47zM1029.64 1077.52h1.47v1.47h-1.47zM1031.10 1077.52h1.47v1.47h-1.47zM1032.57 1077.52h1.47v1.47h-1.47zM1034.03 1077.52h1.47v1.47h-1.47zM993.00 1078.98h1.47v1.47h-1.47zM1003.26 1078.98h1.47v1.47h-1.47zM1004.72 1078.98h1.47v1.47h-1.47zM1007.66 1078.98h1.47v1.47h-1.47zM1012.05 1078.98h1.47v1.47h-1.47zM1020.84 1078.98h1.47v1.47h-1.47zM993.00 1080.45h1.47v1.47h-1.47zM994.47 1080.45h1.47v1.47h-1.47zM995.93 1080.45h1.47v1.47h-1.47zM997.40 1080.45h1.47v1.47h-1.47zM998.86 1080.45h1.47v1.47h-1.47zM1007.66 1080.45h1.47v1.47h-1.47zM1009.12 1080.45h1.47v1.47h-1.47zM1017.91 1080.45h1.47v1.47h-1.47zM1020.84 1080.45h1.47v1.47h-1.47zM1022.31 1080.45h1.47v1.47h-1.47zM1023.78 1080.45h1.47v1.47h-1.47zM1026.71 1080.45h1.47v1.47h-1.47zM1031.10 1080.45h1.47v1.47h-1.47zM1032.57 1080.45h1.47v1.47h-1.47zM1034.03 1080.45h1.47v1.47h-1.47zM998.86 1081.91h1.47v1.47h-1.47zM1000.33 1081.91h1.47v1.47h-1.47zM1001.79 1081.91h1.47v1.47h-1.47zM1004.72 1081.91h1.47v1.47h-1.47zM1007.66 1081.91h1.47v1.47h-1.47zM1009.12 1081.91h1.47v1.47h-1.47zM1010.59 1081.91h1.47v1.47h-1.47zM1016.45 1081.91h1.47v1.47h-1.47zM1019.38 1081.91h1.47v1.47h-1.47zM1020.84 1081.91h1.47v1.47h-1.47zM1022.31 1081.91h1.47v1.47h-1.47zM1025.24 1081.91h1.47v1.47h-1.47zM1029.64 1081.91h1.47v1.47h-1.47zM1031.10 1081.91h1.47v1.47h-1.47zM993.00 1083.38h1.47v1.47h-1.47zM994.47 1083.38h1.47v1.47h-1.47zM995.93 1083.38h1.47v1.47h-1.47zM998.86 1083.38h1.47v1.47h-1.47zM1001.79 1083.38h1.47v1.47h-1.47zM1006.19 1083.38h1.47v1.47h-1.47zM1013.52 1083.38h1.47v1.47h-1.47zM1016.45 1083.38h1.47v1.47h-1.47zM1017.91 1083.38h1.47v1.47h-1.47zM1019.38 1083.38h1.47v1.47h-1.47zM1020.84 1083.38h1.47v1.47h-1.47zM1022.31 1083.38h1.47v1.47h-1.47zM1023.78 1083.38h1.47v1.47h-1.47zM1025.24 1083.38h1.47v1.47h-1.47zM1026.71 1083.38h1.47v1.47h-1.47zM1028.17 1083.38h1.47v1.47h-1.47zM1031.10 1083.38h1.47v1.47h-1.47zM993.00 1084.84h1.47v1.47h-1.47zM998.86 1084.84h1.47v1.47h-1.47zM1000.33 1084.84h1.47v1.47h-1.47zM1001.79 1084.84h1.47v1.47h-1.47zM1006.19 1084.84h1.47v1.47h-1.47zM1007.66 1084.84h1.47v1.47h-1.47zM1009.12 1084.84h1.47v1.47h-1.47zM1010.59 1084.84h1.47v1.47h-1.47zM1012.05 1084.84h1.47v1.47h-1.47zM1014.98 1084.84h1.47v1.47h-1.47zM1017.91 1084.84h1.47v1.47h-1.47zM1019.38 1084.84h1.47v1.47h-1.47zM1022.31 1084.84h1.47v1.47h-1.47zM1023.78 1084.84h1.47v1.47h-1.47zM994.47 1086.31h1.47v1.47h-1.47zM997.40 1086.31h1.47v1.47h-1.47zM1001.79 1086.31h1.47v1.47h-1.47zM1003.26 1086.31h1.47v1.47h-1.47zM1006.19 1086.31h1.47v1.47h-1.47zM1007.66 1086.31h1.47v1.47h-1.47zM1009.12 1086.31h1.47v1.47h-1.47zM1010.59 1086.31h1.47v1.47h-1.47zM1014.98 1086.31h1.47v1.47h-1.47zM1017.91 1086.31h1.47v1.47h-1.47zM1020.84 1086.31h1.47v1.47h-1.47zM1022.31 1086.31h1.47v1.47h-1.47zM1023.78 1086.31h1.47v1.47h-1.47zM1025.24 1086.31h1.47v1.47h-1.47zM1028.17 1086.31h1.47v1.47h-1.47zM1029.64 1086.31h1.47v1.47h-1.47zM1034.03 1086.31h1.47v1.47h-1.47zM1007.66 1087.78h1.47v1.47h-1.47zM1009.12 1087.78h1.47v1.47h-1.47zM1012.05 1087.78h1.47v1.47h-1.47zM1013.52 1087.78h1.47v1.47h-1.47zM1014.98 1087.78h1.47v1.47h-1.47zM1016.45 1087.78h1.47v1.47h-1.47zM1019.38 1087.78h1.47v1.47h-1.47zM1025.24 1087.78h1.47v1.47h-1.47zM1026.71 1087.78h1.47v1.47h-1.47zM1028.17 1087.78h1.47v1.47h-1.47zM1029.64 1087.78h1.47v1.47h-1.47zM1031.10 1087.78h1.47v1.47h-1.47zM993.00 1089.24h1.47v1.47h-1.47zM994.47 1089.24h1.47v1.47h-1.47zM995.93 1089.24h1.47v1.47h-1.47zM997.40 1089.24h1.47v1.47h-1.47zM998.86 1089.24h1.47v1.47h-1.47zM1000.33 1089.24h1.47v1.47h-1.47zM1001.79 1089.24h1.47v1.47h-1.47zM1004.72 1089.24h1.47v1.47h-1.47zM1012.05 1089.24h1.47v1.47h-1.47zM1013.52 1089.24h1.47v1.47h-1.47zM1014.98 1089.24h1.47v1.47h-1.47zM1025.24 1089.24h1.47v1.47h-1.47zM1028.17 1089.24h1.47v1.47h-1.47zM1031.10 1089.24h1.47v1.47h-1.47zM993.00 1090.71h1.47v1.47h-1.47zM1001.79 1090.71h1.47v1.47h-1.47zM1006.19 1090.71h1.47v1.47h-1.47zM1007.66 1090.71h1.47v1.47h-1.47zM1010.59 1090.71h1.47v1.47h-1.47zM1012.05 1090.71h1.47v1.47h-1.47zM1013.52 1090.71h1.47v1.47h-1.47zM1019.38 1090.71h1.47v1.47h-1.47zM1020.84 1090.71h1.47v1.47h-1.47zM1022.31 1090.71h1.47v1.47h-1.47zM1026.71 1090.71h1.47v1.47h-1.47zM1028.17 1090.71h1.47v1.47h-1.47zM1029.64 1090.71h1.47v1.47h-1.47zM1032.57 1090.71h1.47v1.47h-1.47zM1034.03 1090.71h1.47v1.47h-1.47zM993.00 1092.17h1.47v1.47h-1.47zM995.93 1092.17h1.47v1.47h-1.47zM997.40 1092.17h1.47v1.47h-1.47zM998.86 1092.17h1.47v1.47h-1.47zM1001.79 1092.17h1.47v1.47h-1.47zM1009.12 1092.17h1.47v1.47h-1.47zM1012.05 1092.17h1.47v1.47h-1.47zM1014.98 1092.17h1.47v1.47h-1.47zM1016.45 1092.17h1.47v1.47h-1.47zM1019.38 1092.17h1.47v1.47h-1.47zM1022.31 1092.17h1.47v1.47h-1.47zM1023.78 1092.17h1.47v1.47h-1.47zM1025.24 1092.17h1.47v1.47h-1.47zM1026.71 1092.17h1.47v1.47h-1.47zM1031.10 1092.17h1.47v1.47h-1.47zM1032.57 1092.17h1.47v1.47h-1.47zM1034.03 1092.17h1.47v1.47h-1.47zM993.00 1093.64h1.47v1.47h-1.47zM995.93 1093.64h1.47v1.47h-1.47zM997.40 1093.64h1.47v1.47h-1.47zM998.86 1093.64h1.47v1.47h-1.47zM1001.79 1093.64h1.47v1.47h-1.47zM1007.66 1093.64h1.47v1.47h-1.47zM1009.12 1093.64h1.47v1.47h-1.47zM1013.52 1093.64h1.47v1.47h-1.47zM1016.45 1093.64h1.47v1.47h-1.47zM1017.91 1093.64h1.47v1.47h-1.47zM1019.38 1093.64h1.47v1.47h-1.47zM1020.84 1093.64h1.47v1.47h-1.47zM1022.31 1093.64h1.47v1.47h-1.47zM1023.78 1093.64h1.47v1.47h-1.47zM1025.24 1093.64h1.47v1.47h-1.47zM1028.17 1093.64h1.47v1.47h-1.47zM1031.10 1093.64h1.47v1.47h-1.47zM1032.57 1093.64h1.47v1.47h-1.47zM993.00 1095.10h1.47v1.47h-1.47zM995.93 1095.10h1.47v1.47h-1.47zM997.40 1095.10h1.47v1.47h-1.47zM998.86 1095.10h1.47v1.47h-1.47zM1001.79 1095.10h1.47v1.47h-1.47zM1006.19 1095.10h1.47v1.47h-1.47zM1007.66 1095.10h1.47v1.47h-1.47zM1012.05 1095.10h1.47v1.47h-1.47zM1013.52 1095.10h1.47v1.47h-1.47zM1014.98 1095.10h1.47v1.47h-1.47zM1017.91 1095.10h1.47v1.47h-1.47zM1022.31 1095.10h1.47v1.47h-1.47zM1023.78 1095.10h1.47v1.47h-1.47zM1028.17 1095.10h1.47v1.47h-1.47zM1031.10 1095.10h1.47v1.47h-1.47zM1032.57 1095.10h1.47v1.47h-1.47zM1034.03 1095.10h1.47v1.47h-1.47zM993.00 1096.57h1.47v1.47h-1.47zM1001.79 1096.57h1.47v1.47h-1.47zM1006.19 1096.57h1.47v1.47h-1.47zM1007.66 1096.57h1.47v1.47h-1.47zM1009.12 1096.57h1.47v1.47h-1.47zM1010.59 1096.57h1.47v1.47h-1.47zM1013.52 1096.57h1.47v1.47h-1.47zM1022.31 1096.57h1.47v1.47h-1.47zM1023.78 1096.57h1.47v1.47h-1.47zM1025.24 1096.57h1.47v1.47h-1.47zM1028.17 1096.57h1.47v1.47h-1.47zM1029.64 1096.57h1.47v1.47h-1.47zM1032.57 1096.57h1.47v1.47h-1.47zM1034.03 1096.57h1.47v1.47h-1.47zM993.00 1098.03h1.47v1.47h-1.47zM994.47 1098.03h1.47v1.47h-1.47zM995.93 1098.03h1.47v1.47h-1.47zM997.40 1098.03h1.47v1.47h-1.47zM998.86 1098.03h1.47v1.47h-1.47zM1000.33 1098.03h1.47v1.47h-1.47zM1001.79 1098.03h1.47v1.47h-1.47zM1004.72 1098.03h1.47v1.47h-1.47zM1006.19 1098.03h1.47v1.47h-1.47zM1009.12 1098.03h1.47v1.47h-1.47zM1010.59 1098.03h1.47v1.47h-1.47zM1012.05 1098.03h1.47v1.47h-1.47zM1020.84 1098.03h1.47v1.47h-1.47zM1023.78 1098.03h1.47v1.47h-1.47zM1026.71 1098.03h1.47v1.47h-1.47zM1029.64 1098.03h1.47v1.47h-1.47zM1031.10 1098.03h1.47v1.47h-1.47zM1032.57 1098.03h1.47v1.47h-1.47zM1034.03 1098.03h1.47v1.47h-1.47z"/>
<rect x="1009.2" y="1073.2" width="10" height="10" fill="#fff"/>
<rect x="1009.8" y="1074.2" width="8" height="8" fill="#c8202e"/>
</svg>
<div class="dot" style="left:705.7px;background:#62aff2;"></div>
<div class="abs lg" style="left:730px;">上海</div>
<div class="dot" style="left:807.4px;background:#66d3a4;"></div>
<div class="abs lg" style="left:832px;">北京</div>
<div class="dot" style="left:909.2px;background:#f49c52;"></div>
<div class="abs lg" style="left:934.5px;letter-spacing:1.6px;">北京/上海</div>
<div class="abs" id="src">数据来源：各地统计部门 2022年为上半年数据</div>
<div id="sep"></div>
<div class="abs" id="pub">国民经略出品</div>
<div id="seal">
<div class="sc" style="left:36px;top:2px;">国</div>
<div class="sc" style="left:5px;top:4px;">经</div>
<div class="sc" style="left:37px;top:31px;">民</div>
<div class="sc" style="left:5px;top:31px;">略</div>
</div>
<svg width="1080" height="1186" viewBox="0 0 1080 1186" style="z-index:2;pointer-events:none">
<text x="184.0" y="300.0" transform="rotate(-27 184.0 300.0)" text-anchor="middle" dominant-baseline="central" font-size="48" class="wm">国</text>
<text x="241.0" y="270.9" transform="rotate(-27 241.0 270.9)" text-anchor="middle" dominant-baseline="central" font-size="48" class="wm">民</text>
<text x="298.0" y="241.9" transform="rotate(-27 298.0 241.9)" text-anchor="middle" dominant-baseline="central" font-size="48" class="wm">经</text>
<text x="355.1" y="212.8" transform="rotate(-27 355.1 212.8)" text-anchor="middle" dominant-baseline="central" font-size="48" class="wm">略</text>
<text x="695.0" y="352.0" transform="rotate(-27 695.0 352.0)" text-anchor="middle" dominant-baseline="central" font-size="48" class="wm">国</text>
<text x="752.0" y="322.9" transform="rotate(-27 752.0 322.9)" text-anchor="middle" dominant-baseline="central" font-size="48" class="wm">民</text>
<text x="809.0" y="293.9" transform="rotate(-27 809.0 293.9)" text-anchor="middle" dominant-baseline="central" font-size="48" class="wm">经</text>
<text x="866.1" y="264.8" transform="rotate(-27 866.1 264.8)" text-anchor="middle" dominant-baseline="central" font-size="48" class="wm">略</text>
<text x="135.0" y="611.0" transform="rotate(-27 135.0 611.0)" text-anchor="middle" dominant-baseline="central" font-size="48" class="wm">国</text>
<text x="192.0" y="581.9" transform="rotate(-27 192.0 581.9)" text-anchor="middle" dominant-baseline="central" font-size="48" class="wm">民</text>
<text x="249.0" y="552.9" transform="rotate(-27 249.0 552.9)" text-anchor="middle" dominant-baseline="central" font-size="48" class="wm">经</text>
<text x="306.1" y="523.8" transform="rotate(-27 306.1 523.8)" text-anchor="middle" dominant-baseline="central" font-size="48" class="wm">略</text>
<text x="202.0" y="966.0" transform="rotate(-27 202.0 966.0)" text-anchor="middle" dominant-baseline="central" font-size="48" class="wm">国</text>
<text x="259.0" y="936.9" transform="rotate(-27 259.0 936.9)" text-anchor="middle" dominant-baseline="central" font-size="48" class="wm">民</text>
<text x="316.0" y="907.9" transform="rotate(-27 316.0 907.9)" text-anchor="middle" dominant-baseline="central" font-size="48" class="wm">经</text>
<text x="373.1" y="878.8" transform="rotate(-27 373.1 878.8)" text-anchor="middle" dominant-baseline="central" font-size="48" class="wm">略</text>
<text x="770.0" y="985.0" transform="rotate(-27 770.0 985.0)" text-anchor="middle" dominant-baseline="central" font-size="48" class="wm">国</text>
<text x="827.0" y="955.9" transform="rotate(-27 827.0 955.9)" text-anchor="middle" dominant-baseline="central" font-size="48" class="wm">民</text>
<text x="884.0" y="926.9" transform="rotate(-27 884.0 926.9)" text-anchor="middle" dominant-baseline="central" font-size="48" class="wm">经</text>
<text x="941.1" y="897.8" transform="rotate(-27 941.1 897.8)" text-anchor="middle" dominant-baseline="central" font-size="48" class="wm">略</text>
<text x="319" y="752" transform="rotate(-29 319 752)" text-anchor="middle" dominant-baseline="central" font-size="158" class="wm">国</text>
<text x="500" y="648" transform="rotate(-29 500 648)" text-anchor="middle" dominant-baseline="central" font-size="158" class="wm">民</text>
<text x="702" y="555" transform="rotate(-29 702 555)" text-anchor="middle" dominant-baseline="central" font-size="158" class="wm">经</text>
<text x="880" y="452" transform="rotate(-29 880 452)" text-anchor="middle" dominant-baseline="central" font-size="158" class="wm">略</text>
</svg>
</body></html>
